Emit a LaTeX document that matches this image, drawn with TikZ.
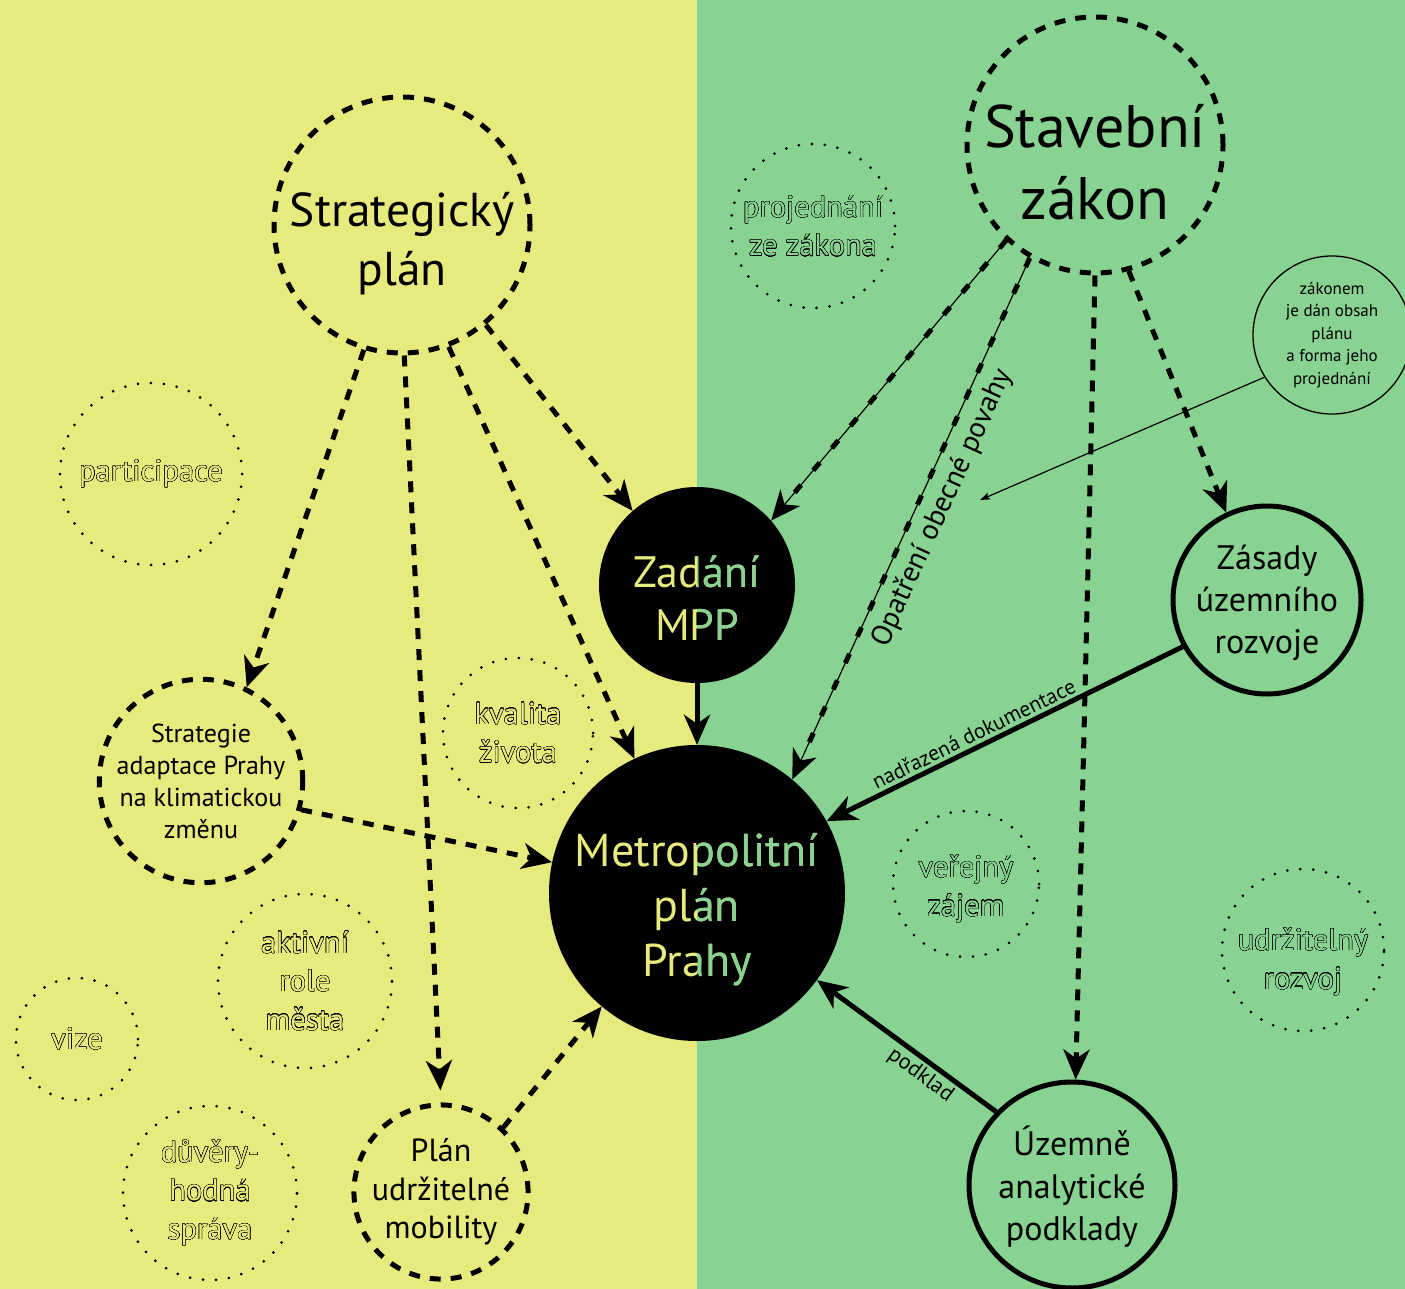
\documentclass[tikz,border=0pt]{standalone}
\usepackage{fontspec}
\setmainfont{PT Sans}
\usepackage[copies]{contour}
\usetikzlibrary{arrows.meta}
\definecolor{leftbg}{HTML}{E7EA7C}
\definecolor{rightbg}{HTML}{88D392}
\contourlength{0.35pt}
\contournumber{24}
\newcommand\olt[1]{\contour{black}{#1}}
\newcommand\fsz[2]{\fontsize{#1}{#2}\selectfont}
\tikzset{>={Stealth[length=30pt,width=26pt,inset=9pt]}}
\tikzset{
    ring/.style={circle, inner sep=0pt, align=center},
    dashring/.style={ring, draw, line width=5pt, dash pattern=on 11pt off 10pt},
    solidring/.style={ring, draw, line width=5pt},
    blackring/.style={ring, fill=black},
    dotring/.style={ring, draw, line width=3pt, line cap=round, dash pattern=on 0pt off 13pt, font=\fsz{30.5}{38.5}},
    dasharr/.style={line width=5pt, dash pattern=on 11pt off 10pt, ->},
    fullarr/.style={line width=5pt, ->},
    lawarr/.style={line width=1.2pt, ->, postaction={draw, -, line width=5pt, dash pattern=on 10pt off 19pt, shorten >=30pt}},
    notearr/.style={line width=1.2pt, -{Stealth[length=10pt,width=7pt,inset=2pt]}},
}

\begin{document}
\begin{tikzpicture}[x=1pt, y=-1pt]
            \useasboundingbox (0,0) rectangle (1405,1289);
            \fill[leftbg] (0,0) rectangle (697,1289);
            \fill[rightbg] (697,0) rectangle (1405,1289);

            % kruhy
            \node[dashring, minimum size=256pt] (sp) at (402,225) {};
            \node[align=center, font=\fsz{47.5}{59}] (sptxt) at (402,244) {Strategický\\plán};
            \node[dashring, minimum size=256pt] (sz) at (1095,145) {};
            \node[align=center, font=\fsz{60}{72}] (sztxt) at (1095,162) {Stavební\\zákon};
            \node[dashring, minimum size=200pt, font=\fsz{26}{32}] (strat) at (201,781) {Strategie\\adaptace Prahy\\na klimatickou\\změnu};
            \node[dashring, minimum size=174pt, font=\fsz{32}{38.5}] (plan) at (441,1192) {Plán\\udržitelné\\mobility};
            \node[solidring, minimum size=188pt] (zur) at (1267,600) {};
            \node[align=center, font=\fsz{34}{42}] (zurtxt) at (1267,603) {Zásady\\územního\\rozvoje};
            \node[solidring, minimum size=206pt] (uap) at (1072,1185) {};
            \node[align=center, font=\fsz{34}{42.5}] (uaptxt) at (1072,1187) {Územně\\analytické\\podklady};
            \node[ring, draw, line width=1.3pt, minimum size=158pt, font=\fsz{17}{22.5}] (note) at (1332,335) {zákonem\\je dán obsah\\plánu\\a forma jeho\\projednání};

            \node[blackring, minimum size=196pt] (zad) at (697,585) {};
            \node[blackring, minimum size=296pt] (metro) at (697,893) {};
            \node[align=center, text=leftbg, font=\fsz{44}{53}] (zadtxt) at (697,598) {Zadání\\MPP};
            \node[align=center, text=leftbg, font=\fsz{46}{55}] (metrotxt) at (697,910) {Metropolitní\\plán\\Prahy};
            \begin{scope}
                \clip (697,0) rectangle (1405,1289);
                \node[align=center, text=rightbg, font=\fsz{44}{53}] (zadtxtR) at (zadtxt.center) {Zadání\\MPP};
                \node[align=center, text=rightbg, font=\fsz{46}{55}] (metrotxtR) at (metrotxt.center) {Metropolitní\\plán\\Prahy};
            \end{scope}

            % hodnoty
            \node[dotring, minimum size=164pt, text=rightbg] (pz) at (813,226) {\olt{projednání}\\\olt{ze zákona}};
            \node[dotring, minimum size=182pt, text=leftbg] (part) at (151,474) {\olt{participace}};
            \node[dotring, minimum size=150pt, text=leftbg] (kval) at (518,733) {\olt{kvalita}\\\olt{života}};
            \node[dotring, minimum size=174pt, text=leftbg] (akt) at (305,981) {\olt{aktivní}\\\olt{role}\\\olt{města}};
            \node[dotring, minimum size=122pt, text=leftbg] (vize) at (77,1039) {\olt{vize}};
            \node[dotring, minimum size=174pt, text=leftbg] (duv) at (210,1193) {\olt{důvěry-}\\\olt{hodná}\\\olt{správa}};
            \node[dotring, minimum size=146pt] (vz) at (966,884) {};
            \node[align=center, font=\fsz{30.5}{38.5}, text=rightbg] (vztxt) at (966,889) {\olt{veřejný}\\\olt{zájem}};
            \node[dotring, minimum size=162pt] (ur) at (1303,950) {};
            \node[align=center, font=\fsz{30.5}{38.5}, text=rightbg] (urtxt) at (1303,962) {\olt{udržitelný}\\\olt{rozvoj}};

            % vazby
            \draw[dasharr] (sp.253) -- (strat.64);
            \draw[dasharr, shorten >=12pt] (sp.271) -- (plan.90);
            \draw[dasharr] (sp.291) -- (metro.115);
            \draw[dasharr] (sp.310) -- (zad.131);
            \draw[dasharr] (strat.344) -- (metro.168);
            \draw[dasharr] (plan.46) -- (metro.230);
            \draw[fullarr] (zad.south) -- (metro.north);
            \draw[lawarr] (sz.227) -- (zad.41);
            \draw[lawarr] (sz.240) -- node[sloped, below, pos=0.46, inner sep=10pt, font=\fsz{29}{34}] (oop) {Opatření obecné povahy} (metro.50);
            \draw[dasharr] (sz.270) -- (uap.88);
            \draw[dasharr] (sz.285) -- (zur.115);
            \draw[fullarr] (zur.209) -- node[sloped, above, pos=0.57, font=\fsz{21.5}{25}] (nad) {nadřazená dokumentace} (metro.29);
            \draw[fullarr] (uap.136) -- node[sloped, below, pos=0.37, font=\fsz{22}{25}] (pod) {podklad} (metro.324);
            \coordinate (noteend) at (980,500);
            \draw[notearr] (note.212) -- (noteend);
\end{tikzpicture}
\end{document}
